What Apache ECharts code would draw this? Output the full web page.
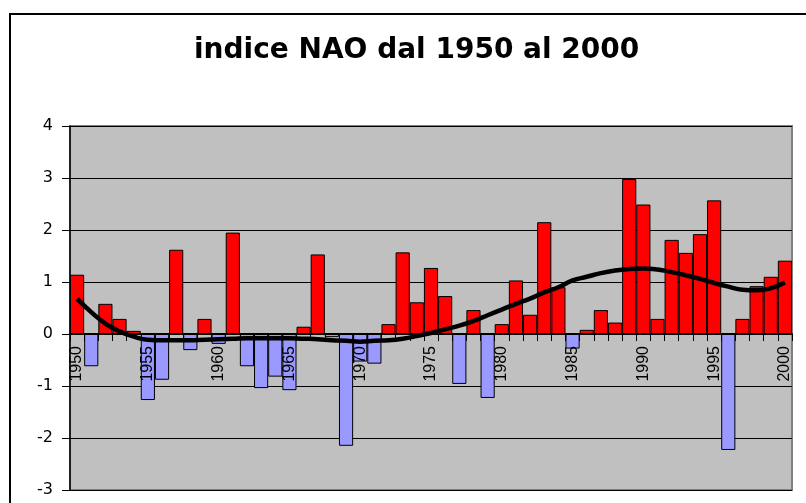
<!DOCTYPE html>
<html>
<head>
<meta charset="utf-8">
<title>indice NAO dal 1950 al 2000</title>
<script src="https://cdn.jsdelivr.net/npm/echarts@6/dist/echarts.min.js"></script>
<style>
  html, body { margin: 0; padding: 0; background: #fff; }
  #chart { width: 806px; height: 503px; }
</style>
</head>
<body>
<div id="chart"></div>
<script>
const years = [];
for (let y = 1950; y <= 2000; y++) years.push(String(y));

// indice NAO annuale
const naoValues = [
  1.14, -0.62, 0.58, 0.29, 0.06, -1.27, -0.88, 1.62, -0.31, 0.29,
  -0.19, 1.95, -0.62, -1.04, -0.82, -1.08, 0.14, 1.53, -0.06, -2.15,
  -0.53, -0.57, 0.19, 1.57, 0.61, 1.27, 0.73, -0.96, 0.46, -1.23,
  0.19, 1.03, 0.37, 2.15, 0.9, -0.28, 0.08, 0.46, 0.22, 2.98,
  2.49, 0.29, 1.81, 1.56, 1.92, 2.57, -2.23, 0.29, 0.92, 1.1,
  1.41,
];

// linea di tendenza (polinomiale)
const trendValues = [
  0.68, 0.42, 0.2, 0.05, -0.05, -0.11, -0.12, -0.12, -0.12, -0.11,
  -0.1, -0.09, -0.08, -0.08, -0.08, -0.08, -0.09, -0.1, -0.12, -0.13,
  -0.15, -0.13, -0.12, -0.09, -0.04, 0.02, 0.09, 0.16, 0.25, 0.36,
  0.47, 0.58, 0.68, 0.8, 0.9, 1.03, 1.1, 1.17, 1.22, 1.25,
  1.26, 1.24, 1.19, 1.13, 1.06, 0.98, 0.91, 0.85, 0.84, 0.88,
  0.99,
];

const yMin = -3;
const yMax = 4;

const grid = { left: 70, right: 14, top: 126, bottom: 13 };
const chartHeight = 503;

// l'asse delle categorie passa per lo zero
const zeroOffset = () => {
  const plotHeight = chartHeight - grid.top - grid.bottom;
  return -plotHeight * (0 - yMin) / (yMax - yMin);
};

const colors = {
  positive: "#ff0000",
  negative: "#9999ff",
  plot: "#c0c0c0",
  ink: "#000000",
};

const chart = echarts.init(document.getElementById("chart"));

chart.setOption({
  backgroundColor: "#ffffff",
  animation: false,
  title: {
    text: "indice NAO dal 1950 al 2000",
    left: 189,
    top: 32,
    textStyle: {
      fontFamily: "DejaVu Sans",
      fontWeight: "bold",
      fontSize: 28,
      color: colors.ink,
    },
  },
  graphic: [
    {
      type: "polyline",
      shape: { points: [[10, 503], [10, 14], [806, 14]] },
      style: { stroke: colors.ink, lineWidth: 2, fill: null },
      z: 10,
    },
  ],
  grid: {
    ...grid,
    containLabel: false,
    outerBoundsMode: "none",
    show: true,
    backgroundColor: colors.plot,
    borderColor: "#808080",
    borderWidth: 2,
  },
  xAxis: {
    type: "category",
    data: years,
    boundaryGap: true,
    position: "bottom",
    offset: zeroOffset(),
    axisLine: {
      show: true,
      onZero: false,
      lineStyle: { color: colors.ink, width: 2 },
    },
    axisTick: { show: true, interval: 0, length: 7, lineStyle: { color: colors.ink } },
    axisLabel: {
      interval: 4,
      rotate: 90,
      margin: 12,
      color: colors.ink,
      fontFamily: "Liberation Sans",
      fontSize: 16,
    },
    splitLine: { show: false },
    z: 5,
  },
  yAxis: {
    type: "value",
    min: yMin,
    max: yMax,
    interval: 1,
    axisLine: { show: true, lineStyle: { color: colors.ink, width: 1.5 } },
    axisTick: { show: true, length: 8, lineStyle: { color: colors.ink } },
    axisLabel: {
      margin: 17,
      color: colors.ink,
      fontFamily: "DejaVu Sans",
      fontSize: 16,
    },
    splitLine: { show: true, lineStyle: { color: colors.ink, width: 1 } },
  },
  series: [
    {
      name: "NAO",
      type: "bar",
      data: naoValues,
      barCategoryGap: "0%",
      itemStyle: {
        color: (p) => (p.value >= 0 ? colors.positive : colors.negative),
        borderColor: colors.ink,
        borderWidth: 1,
      },
      z: 2,
    },
    {
      name: "tendenza",
      type: "line",
      data: trendValues,
      smooth: true,
      symbol: "none",
      lineStyle: { color: colors.ink, width: 4.5 },
      z: 4,
    },
  ],
});
</script>
</body>
</html>
